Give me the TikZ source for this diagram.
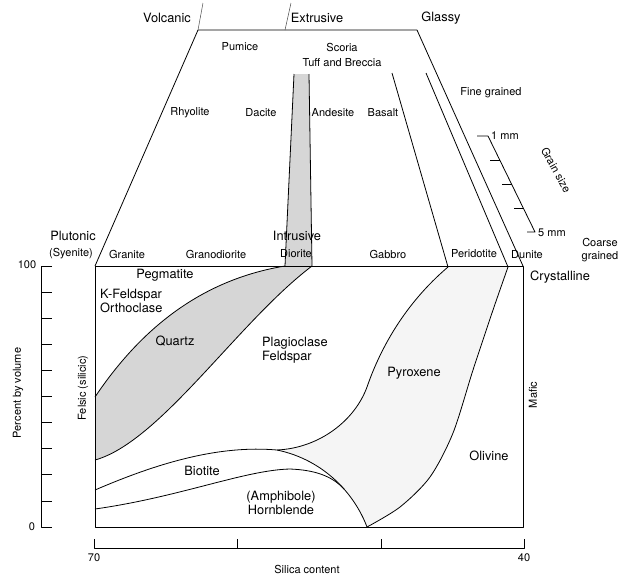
\documentclass[tikz,border=0pt]{standalone}
\usepackage{fontspec}
\setmainfont{TeX Gyre Heros}
\begin{document}
\begin{tikzpicture}[x=1pt,y=-1pt,line join=round,
  ln/.style={line width=0.8pt},
  thin line/.style={line width=0.5pt, black!70},
  qz/.style={fill=black!16},
  px/.style={fill=black!4},
  lbig/.style={font=\fontsize{12.8}{14}\selectfont, inner sep=0pt},
  lsm/.style={font=\fontsize{11}{12.5}\selectfont, inner sep=0pt}]
\useasboundingbox (0,0) rectangle (623,579);
\fill[white] (0,0) rectangle (623,579);

% key coordinates
\coordinate (TL) at (198,30);
\coordinate (TR) at (417,30);
\coordinate (BL) at (95,266);
\coordinate (BR) at (523,266);
\coordinate (RB) at (523,527);
\coordinate (LB) at (95,527);
\coordinate (HB) at (367,527);
\coordinate (QA) at (285,266);
\coordinate (QB) at (312,266);
\coordinate (QL1) at (95,397);
\coordinate (QL2) at (95,460);
\coordinate (PX) at (448,267);
\coordinate (PM) at (367,387);
\coordinate (OL) at (508,267);
\coordinate (BJ) at (277,450);

% ---- shaded regions ----
\fill[qz] (294,74) -- (309,74) -- (QB) -- (QA) -- cycle;
\fill[qz] (QA) .. controls (200,280) and (140,330) .. (QL1) -- (QL2)
  .. controls (160,442) and (238,322) .. (QB) -- cycle;
\fill[px] (PX) .. controls (415,295) and (385,335) .. (PM)
  .. controls (355,420) and (320,448) .. (BJ)
  .. controls (325,460) and (355,495) .. (HB)
  -- plot[smooth] coordinates {(367,527) (400,507) (430,477) (453,433) (473,370) (493,310) (508,267)} -- cycle;

% ---- upper trapezoid ----
\draw[ln] (BL) -- (TL) -- (TR) -- (BR);
\draw[thin line] (TL) -- (203,3);
\draw[thin line] (285,30) -- (291,3);
\draw[ln] (294,74) -- (QA);
\draw[ln] (309,74) -- (QB);
\draw[ln] (392,73) -- (PX);
\draw[ln] (426,73) -- (OL);

% ---- grain size scale ----
\draw[ln] (477,136) -- (488,136) -- (535,232) -- (527,232);
\draw[ln] (490,160) -- (499.75,160);
\draw[ln] (502,184) -- (511.5,184);
\draw[ln] (514,208) -- (523.25,208);

% ---- lower rectangle ----
\draw[ln] (BL) rectangle (RB);
\draw[ln] (QA) .. controls (200,280) and (140,330) .. (QL1);
\draw[ln] (QL2) .. controls (160,442) and (238,322) .. (QB);
\draw[ln] (PX) .. controls (415,295) and (385,335) .. (PM)
  .. controls (355,420) and (320,448) .. (BJ);
\draw[ln] plot[smooth] coordinates {(367,527) (400,507) (430,477) (453,433) (473,370) (493,310) (508,267)};
\draw[ln] (95,490) .. controls (160,462) and (220,445) .. (BJ)
  .. controls (325,460) and (355,495) .. (HB);
\draw[ln] (95,509) .. controls (180,497) and (245,470) .. (290,469)
  .. controls (315,470) and (332,476) .. (344,489);

% ---- left axis ----
\draw[ln] (52,266) -- (41,266) -- (41,527) -- (52,527);
\foreach \i in {1,...,9} \draw[ln] (41,{266+\i*26.1}) -- (52,{266+\i*26.1});

% ---- bottom axis ----
\draw[ln] (94,539) -- (94,548) -- (524,548) -- (524,539);
\draw[ln] (237,548) -- (237,539);
\draw[ln] (381,548) -- (381,539);

% ---- labels ----
\node[lbig] (volc) at (167,18) {Volcanic};
\node[lbig] (extr) at (317,18) {Extrusive};
\node[lbig] (glas) at (441,18) {Glassy};
\node[lsm] (pum) at (240,47) {Pumice};
\node[lsm] (sco) at (342,47) {Scoria};
\node[lsm] (tuff) at (342,63) {Tuff and Breccia};
\node[lsm] (rhy) at (190,113) {Rhyolite};
\node[lsm] (dac) at (261,113) {Dacite};
\node[lsm] (and) at (333,113) {Andesite};
\node[lsm] (bas) at (383,113) {Basalt};
\node[lsm] (fine) at (491,93) {Fine grained};
\node[lsm, anchor=west] (onemm) at (491,136) {1 mm};
\node[lsm, anchor=west] (fivemm) at (538,233) {5 mm};
\node[lsm, rotate=-61] (gsize) at (556,170) {Grain size};
\node[lsm, align=center] (coarse) at (600,250) {Coarse\\grained};
\node[lbig] (plut) at (73,236) {Plutonic};
\node[lsm] (sye) at (71,254) {(Syenite)};
\node[lsm] (gran) at (127,254) {Granite};
\node[lsm] (grano) at (216,254) {Granodiorite};
\node[lbig] (intr) at (297,236) {Intrusive};
\node[lsm] (dior) at (296,254) {Diorite};
\node[lsm] (gab) at (388,254) {Gabbro};
\node[lsm] (peri) at (474,254) {Peridotite};
\node[lsm] (dun) at (527,255) {Dunite};
\node[lbig] (cryst) at (560,277) {Crystalline};
\node[lsm] (hund) at (27,265) {100};
\node[lsm] (zero) at (32,527) {0};
\node[lsm, rotate=90] (pct) at (18,393) {Percent by volume};
\node[lsm, rotate=90] (fels) at (83,388) {Felsic (silicic)};
\node[lsm, rotate=90] (maf) at (533,395) {Mafic};
\node[lbig] (peg) at (165,275) {Pegmatite};
\node[lbig, anchor=west, align=left] (kfeld) at (100,301) {K-Feldspar\\Orthoclase};
\node[lbig] (qtz) at (175,341) {Quartz};
\node[lbig, anchor=west, align=left] (plag) at (262,350) {Plagioclase\\Feldspar};
\node[lbig] (pyr) at (414,373) {Pyroxene};
\node[lbig] (oliv) at (489,456) {Olivine};
\node[lbig] (biot) at (202,471) {Biotite};
\node[lbig, align=center] (hbl) at (281,503) {(Amphibole)\\Hornblende};
\node[lsm] (seventy) at (94,558) {70};
\node[lsm] (forty) at (524,558) {40};
\node[lsm] (silica) at (307,569) {Silica content};
\end{tikzpicture}
\end{document}
